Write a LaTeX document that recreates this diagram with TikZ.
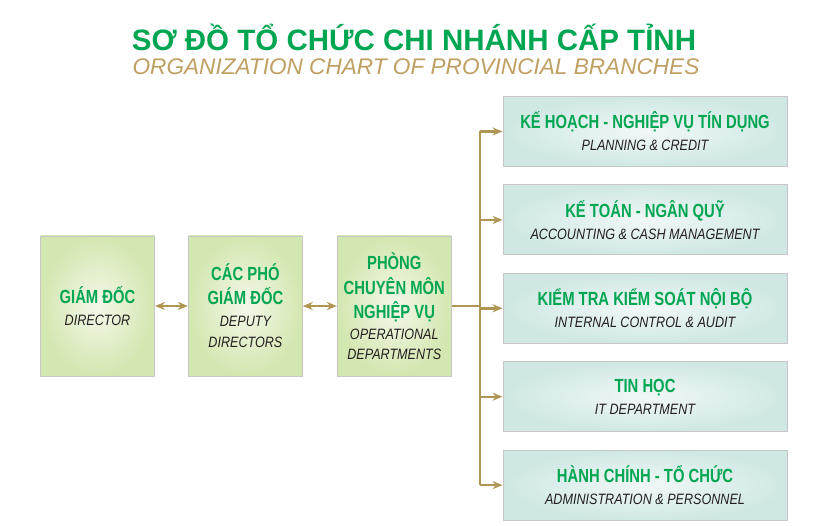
\documentclass[tikz,border=0pt]{standalone}
\usepackage{fontspec}
\setmainfont{Liberation Sans}
\newfontfamily\condfont[FakeStretch=0.78]{Liberation Sans}
\newfontfamily\subfont[FakeStretch=0.84]{Liberation Sans}
\usepackage{xcolor}
\usepackage{tikz}
\usetikzlibrary{positioning, arrows.meta, calc}
\definecolor{vbgreen}{HTML}{00A651}
\definecolor{vbgold}{HTML}{AF9655}
\definecolor{titlegold}{HTML}{BFA062}
\definecolor{inkgray}{HTML}{231F20}
\definecolor{leafouter}{HTML}{D3E7B0}
\definecolor{leafinner}{HTML}{F4F8EA}
\definecolor{aquaouter}{HTML}{CFE8E4}
\definecolor{aquainner}{HTML}{F1F8F7}
\tikzset{
    mainbox/.style={rectangle, draw=black!22, line width=0.9pt, shading=radial, inner color=leafinner, outer color=leafouter, minimum width=114pt, minimum height=140pt, align=center, inner sep=2pt, font=\fontsize{15}{21}\selectfont},
    deptbox/.style={rectangle, draw=black!22, line width=0.9pt, shading=radial, inner color=aquainner, outer color=aquaouter, minimum width=284pt, minimum height=70pt, align=center, inner sep=2pt, font=\fontsize{15}{21}\selectfont},
    link/.style={-{Stealth[length=10pt, width=8pt]}, vbgold, line width=2.4pt},
    dlink/.style={{Stealth[length=10pt, width=8pt]}-{Stealth[length=10pt, width=8pt]}, vbgold, line width=2.6pt},
    trunk/.style={vbgold, line width=2.4pt}
}
\newcommand{\vn}[1]{{\condfont\fontsize{19}{21}\selectfont\bfseries\color{vbgreen}#1}}
\newcommand{\en}[1]{{\subfont\fontsize{15}{21}\selectfont\itshape\color{inkgray}#1}}

\begin{document}
\begin{tikzpicture}[x=1pt, y=-1pt]
    \useasboundingbox[fill=white] (0,0) rectangle (837,526);

    % Title
    \node (title) at (414,37) {\fontsize{29.5}{32}\selectfont\bfseries\color{vbgreen}SƠ ĐỒ TỔ CHỨC CHI NHÁNH CẤP TỈNH};
    \node (subtitle) at (416,67) {\fontsize{22.6}{25}\selectfont\itshape\color{titlegold}ORGANIZATION CHART OF PROVINCIAL BRANCHES};

    % Management chain
    \node[mainbox] (gd) at (97.5,306) {\vn{GIÁM ĐỐC}\\[1pt]\en{DIRECTOR}};
    \node[mainbox, right=33pt of gd] (pgd) {\vn{CÁC PHÓ}\\[3pt]\vn{GIÁM ĐỐC}\\[1pt]\en{DEPUTY}\\\en{DIRECTORS}};
    \node[mainbox, right=34pt of pgd] (phong) {\vn{PHÒNG}\\[4pt]\vn{CHUYÊN MÔN}\\[3pt]\vn{NGHIỆP VỤ}\\[0pt]\en{OPERATIONAL}\\[-1pt]\en{DEPARTMENTS}};

    % Departments
    \node[deptbox] (khtd) at (645,131.5) {\vn{KẾ HOẠCH - NGHIỆP VỤ TÍN DỤNG}\\[1pt]\en{PLANNING \& CREDIT}};
    \node[deptbox, below=17.5pt of khtd] (ktnq) {\vn{KẾ TOÁN - NGÂN QUỸ}\\[1pt]\en{ACCOUNTING \& CASH MANAGEMENT}};
    \node[deptbox, below=17.5pt of ktnq] (ktks) {\vn{KIỂM TRA KIỂM SOÁT NỘI BỘ}\\[1pt]\en{INTERNAL CONTROL \& AUDIT}};
    \node[deptbox, below=17.5pt of ktks] (tin) {\vn{TIN HỌC}\\[1pt]\en{IT DEPARTMENT}};
    \node[deptbox, below=17.5pt of tin] (hctc) {\vn{HÀNH CHÍNH - TỔ CHỨC}\\[1pt]\en{ADMINISTRATION \& PERSONNEL}};

    % Connectors
    \draw[dlink] (gd) -- (pgd);
    \draw[dlink] (pgd) -- (phong);
    \coordinate (jn) at ($(phong.east)+(28,0)$);
    \draw[trunk] (phong.east) -- (jn);
    \draw[trunk] (jn |- khtd.west) -- (jn |- hctc.west);
    \foreach \d in {khtd, ktnq, ktks, tin, hctc}
        \draw[link] (jn |- \d.west) -- (\d.west);
\end{tikzpicture}
\end{document}
